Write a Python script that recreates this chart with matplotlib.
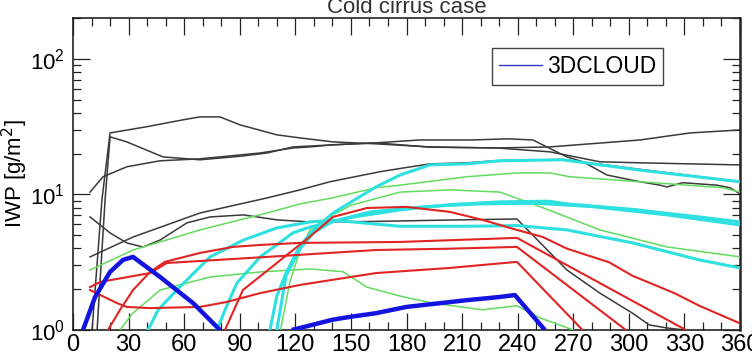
import matplotlib
matplotlib.use("Agg")
import matplotlib.pyplot as plt
from matplotlib.lines import Line2D
from matplotlib.ticker import MultipleLocator, LogLocator, NullFormatter

plt.rcParams['font.family'] = ['Liberation Sans', 'DejaVu Sans']

# --- data (angle vs IWP, g/m2) ---
# black runs
k1_x = [10.3, 15.6, 20, 40, 59.4, 68.5, 79.3, 90.1, 110, 122.5, 140.3, 163.5, 192.7, 228.8, 257.4, 284.4, 306, 360]
k1_y = [1.0, 9.1, 28.4, 31.6, 35.5, 37.3, 37.3, 32.6, 27.5, 26.1, 24.4, 23.6, 22.4, 22.0, 20.6, 17.4, 17.1, 16.5]
k2_x = [13, 17.3, 20, 29, 48.6, 68.5, 90, 104.7, 118.7, 140, 163.5, 187, 215, 235, 248.2, 266.6, 275.2, 288.2,
        306, 316.8, 320.6, 329, 347.5, 354.6, 360]
k2_y = [1.0, 9.1, 26.6, 24.4, 18.9, 18.0, 19.1, 20.2, 22.4, 23.2, 24.0, 25.2, 25.2, 25.7, 25.2, 18.9, 17.4, 13.9,
        12.4, 11.7, 11.35, 12.2, 11.7, 11.2, 10.1]
k3_x = [9.2, 16.2, 29.1, 47, 68.5, 101, 118.7, 128, 140, 163.5, 192.7, 228.8, 257.4, 306, 333, 360]
k3_y = [10.4, 13.5, 16.0, 17.7, 18.3, 20.2, 22.0, 22.4, 23.2, 24.0, 22.3, 22.0, 22.4, 25.2, 28.4, 29.9]
k4_x = [9.2, 20, 29, 37.8, 47, 61.5, 74, 92, 110, 128, 160, 200, 239.6, 248.2, 266.6, 284.4, 302, 311, 320.6, 330]
k4_y = [6.82, 5.2, 4.39, 4.09, 4.61, 6.17, 6.82, 7.06, 6.49, 6.27, 6.31, 6.46, 6.59, 5.0, 2.77, 1.87, 1.33, 1.09,
        1.035, 1.0]
k5_x = [9.2, 32.4, 68.5, 104.7, 122.5, 138.7, 165.7, 180, 192.7, 212.6, 230.4, 264.4, 306, 360]
k5_y = [3.46, 4.85, 7.29, 9.42, 10.8, 12.4, 14.7, 15.8, 16.8, 17.1, 17.8, 18.1, 15.3, 12.4]

# green runs
g1_x = [9.2, 32.4, 68.5, 104.7, 122.5, 140, 163.5, 176.5, 212.6, 239.6, 257.4, 268, 306, 350.8, 360]
g1_y = [2.77, 3.89, 5.47, 7.29, 8.51, 9.42, 11.2, 11.7, 13.5, 14.4, 14.4, 13.5, 12.4, 11.2, 10.4]
g2_x = [112, 117, 122.5, 128, 139, 150, 176.5, 203.5, 230.4, 252, 284.4, 320.6, 360]
g2_y = [1.0, 2.24, 3.89, 5.5, 6.92, 8.32, 10.4, 10.8, 10.4, 8.13, 5.47, 4.1, 3.46]
g3_x = [25.4, 32, 47, 74, 101, 128, 145.7, 158.7, 176.5, 194, 221, 239.6, 252, 270]
g3_y = [1.0, 1.32, 1.97, 2.46, 2.68, 2.82, 2.69, 2.07, 1.78, 1.58, 1.41, 1.51, 1.23, 1.0]

# cyan runs
c1_x = [106.3, 110, 115, 122.5, 130, 140.3, 163.5, 176.5, 192.7, 212.6, 230.4, 264.4, 306, 360]
c1_y = [1.0, 1.78, 2.63, 4.17, 5.5, 7.29, 11.35, 13.9, 16.5, 16.8, 17.7, 18.0, 15.1, 12.4]
c2_x = [40.5, 46, 56, 74, 92, 110, 128, 140, 176.5, 212.6, 240, 266.6, 302, 338, 360]
c2_y = [1.0, 1.41, 1.97, 3.46, 4.61, 5.66, 6.27, 6.46, 5.82, 5.82, 5.89, 5.47, 4.39, 3.29, 2.87]
c3_x = [77.7, 83, 88.5, 101, 118.7, 128, 150, 176.5, 203.5, 230, 257, 266.6, 302, 338, 360]
c3_y = [1.0, 1.51, 2.22, 3.46, 5.2, 5.75, 6.76, 7.69, 8.41, 8.81, 8.91, 8.51, 7.76, 6.82, 6.27]
c4_x = [110, 115, 122.5, 130, 140, 160, 190, 220, 250, 280, 320, 360]
c4_y = [1.0, 2.51, 3.98, 5.25, 6.31, 7.41, 8.13, 8.51, 8.61, 8.13, 7.08, 5.96]

# red runs
r0_x = [82, 91.7, 110, 128, 140.3, 158.7, 180, 203.5, 221, 239.6, 253.6, 266.6, 289.3, 302, 325, 338, 360]
r0_y = [1.0, 1.97, 3.12, 4.9, 6.82, 7.94, 8.09, 7.43, 6.49, 5.47, 4.85, 3.98, 3.16, 2.51, 1.86, 1.51, 1.12]
r1_x = [18.9, 25.4, 32.4, 41.6, 49.6, 68.5, 86.3, 101, 122.5, 176.5, 239.6, 330.8]
r1_y = [1.0, 1.41, 1.97, 2.68, 3.18, 3.7, 4.1, 4.24, 4.39, 4.46, 4.78, 1.0]
r2_x = [9.2, 14.6, 41.6, 50.7, 104.7, 163.5, 203.5, 239.6, 298.4]
r2_y = [2.07, 2.26, 2.63, 3.12, 3.46, 3.89, 3.98, 4.1, 1.0]
r3_x = [9.2, 23.7, 29, 41.6, 68.5, 83, 101, 122.5, 163.5, 203.5, 239.6, 275]
r3_y = [1.97, 1.58, 1.48, 1.45, 1.48, 1.61, 1.87, 2.15, 2.63, 2.87, 3.18, 1.0]

# 3DCLOUD (blue)
b1_x = [5.4, 11.9, 20, 27, 32.4, 47, 64.8, 79.3]
b1_y = [1.0, 1.75, 2.68, 3.29, 3.46, 2.46, 1.58, 1.0]
b2_x = [118, 122.5, 140, 149.5, 163.5, 180, 212.6, 230, 238.5, 254.7]
b2_y = [1.0, 1.035, 1.19, 1.25, 1.33, 1.48, 1.66, 1.75, 1.81, 1.0]

x_ticks = list(range(0, 361, 30))

fig = plt.figure(figsize=(7.52, 3.56), dpi=100)
ax = fig.add_axes([73 / 752, 1 - 330 / 356, 667 / 752, 312 / 356])

black = '#3a3a3a'
green = '#62dc5e'
cyan = '#2ee0e0'
red = '#e02424'
blue = '#1414e0'

for xs, ys in [(k1_x, k1_y), (k2_x, k2_y), (k3_x, k3_y), (k4_x, k4_y), (k5_x, k5_y)]:
    ax.plot(xs, ys, color=black, lw=1.1, zorder=2)
for xs, ys in [(g1_x, g1_y), (g2_x, g2_y), (g3_x, g3_y)]:
    ax.plot(xs, ys, color=green, lw=1.1, zorder=3)
for xs, ys in [(c1_x, c1_y), (c2_x, c2_y), (c3_x, c3_y), (c4_x, c4_y)]:
    ax.plot(xs, ys, color=cyan, lw=2.2, zorder=4)
for xs, ys in [(r0_x, r0_y), (r1_x, r1_y), (r2_x, r2_y), (r3_x, r3_y)]:
    ax.plot(xs, ys, color=red, lw=1.5, zorder=5)
for xs, ys in [(b1_x, b1_y), (b2_x, b2_y)]:
    ax.plot(xs, ys, color=blue, lw=3.2, zorder=6, solid_capstyle='butt')

ax.set_yscale('log')
ax.set_xlim(0, 360)
ax.set_ylim(1, 200)
ax.set_xticks(x_ticks)
ax.xaxis.set_minor_locator(MultipleLocator(10))
ax.yaxis.set_major_locator(LogLocator(base=10, numticks=5))
ax.yaxis.set_minor_locator(LogLocator(base=10, subs=range(2, 10), numticks=20))
ax.yaxis.set_minor_formatter(NullFormatter())

ax.tick_params(which='both', direction='in', top=True, right=True, color='#222', width=0.9)
ax.tick_params(which='major', length=12)
ax.tick_params(which='minor', length=6)
ax.tick_params(axis='x', which='major', labelsize=17, pad=3)
ax.tick_params(axis='y', which='major', labelsize=16, pad=6)

for side, sp in ax.spines.items():
    sp.set_linewidth(1.8 if side == 'right' else 1.2)
    sp.set_color('#222')

ax.set_ylabel('IWP [g/m$^2$]', fontsize=16)
ax.yaxis.set_label_coords(-0.064, 0.5)
ax.set_title('Cold cirrus case', fontsize=16, pad=3, color='#333')

proxy = Line2D([], [], color='#3434c4', lw=1.0)
ax.legend([proxy], ['3DCLOUD'], loc='upper left', bbox_to_anchor=(492 / 752, 1 - 48 / 356),
          bbox_transform=fig.transFigure, borderaxespad=0, borderpad=0.3, handlelength=1.9,
          handletextpad=0.2, fontsize=16.5, fancybox=False, framealpha=1, edgecolor='#444')

fig.savefig('out.png', dpi=100, facecolor='white')
